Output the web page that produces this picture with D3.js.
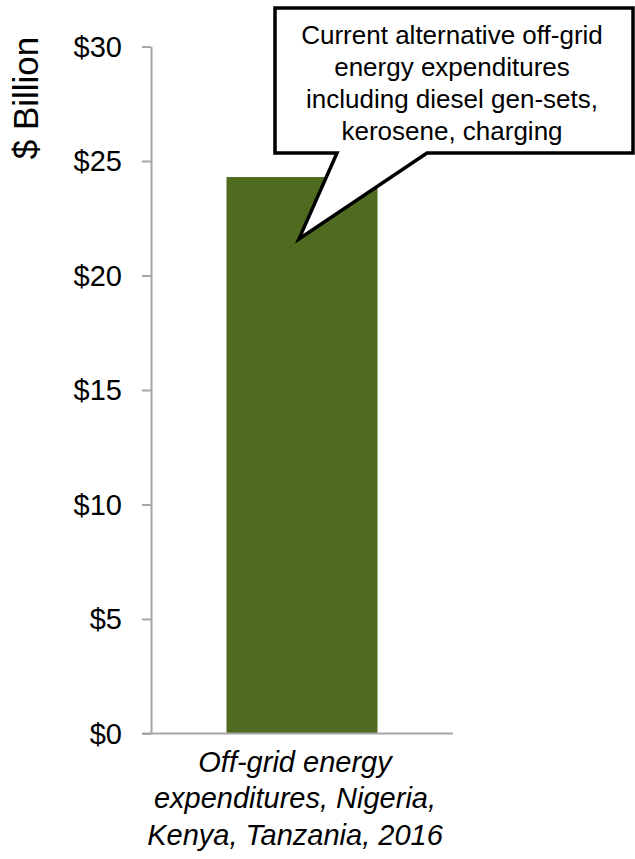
<!DOCTYPE html>
<html>
<head>
<meta charset="utf-8">
<script src="https://cdn.jsdelivr.net/npm/d3@7"></script>
<style>
  body { margin: 0; background: #fff; }
  svg { display: block; font-family: "Liberation Sans", Arial, sans-serif; }
</style>
</head>
<body>
<div id="chart-container"></div>
<script>
(function () {
  // Chart data
  var categories = ["Off-grid energy expenditures, Nigeria, Kenya, Tanzania, 2016"];
  var categoryLines = [["Off-grid energy", "expenditures, Nigeria,", "Kenya, Tanzania, 2016"]];
  var values = [24.3];
  var yTicks = [0, 5, 10, 15, 20, 25, 30];
  var calloutLines = [
    "Current alternative off-grid",
    "energy expenditures",
    "including diesel gen-sets,",
    "kerosene, charging"
  ];

  // Size of the whole picture
  var width = 635;
  var height = 859;
  var margin = { top: 46.5, right: 182, bottom: 125.5, left: 151 };
  var innerWidth = width - margin.left - margin.right;
  var innerHeight = height - margin.top - margin.bottom;

  var axisColor = "#a6a6a6";
  var barColor = "#4e6b1f";

  var svg = d3.select("#chart-container")
    .append("svg")
    .attr("width", width)
    .attr("height", height);

  var g = svg.append("g")
    .attr("transform", `translate(${margin.left}, ${margin.top})`);

  // Scales
  var x = d3.scaleBand()
    .domain(categories)
    .range([0, innerWidth])
    .paddingInner(0.5)
    .paddingOuter(0.25);

  var y = d3.scaleLinear()
    .domain([0, 30])
    .range([innerHeight, 0]);

  // Y axis with dollar labels
  var yAxis = g.append("g")
    .call(d3.axisLeft(y)
      .tickValues(yTicks)
      .tickSize(9)
      .tickPadding(20)
      .tickSizeOuter(0)
      .tickFormat(d => "$" + d));

  yAxis.select(".domain").attr("stroke", axisColor).attr("stroke-width", 2);
  yAxis.selectAll("line").attr("stroke", axisColor).attr("stroke-width", 2);
  yAxis.selectAll("text")
    .attr("fill", "#000")
    .style("font-size", "29px")
    .attr("dy", "0.34em");

  // Bars
  g.selectAll(".bar")
    .data(values)
    .enter()
    .append("rect")
    .attr("class", "bar")
    .attr("x", (d, i) => x(categories[i]))
    .attr("y", d => y(d))
    .attr("width", x.bandwidth())
    .attr("height", d => innerHeight - y(d))
    .attr("fill", barColor);

  // Baseline, running a bit past the y axis like the ticks
  g.append("line")
    .attr("x1", -9)
    .attr("x2", innerWidth)
    .attr("y1", y(0))
    .attr("y2", y(0))
    .attr("stroke", axisColor)
    .attr("stroke-width", 2);

  // Category label in italics, split over three lines
  categories.forEach(function (c, i) {
    var label = g.append("text")
      .attr("x", x(c) + x.bandwidth() / 2 - 7)
      .attr("y", innerHeight + 38)
      .attr("text-anchor", "middle")
      .style("font-size", "29px")
      .style("font-style", "italic")
      .attr("fill", "#000");
    label.selectAll("tspan")
      .data(categoryLines[i])
      .enter()
      .append("tspan")
      .attr("x", x(c) + x.bandwidth() / 2 - 7)
      .attr("dy", (d, j) => j == 0 ? 0 : 36.5)
      .text(d => d);
  });

  // Y axis title
  svg.append("text")
    .attr("transform", "rotate(-90)")
    .attr("x", -98)
    .attr("y", 38)
    .attr("text-anchor", "middle")
    .style("font-size", "35px")
    .attr("fill", "#000")
    .text("$ Billion");

  // Speech-bubble callout pointing into the bar
  var tipX = x(categories[0]) + x.bandwidth() / 2 - 3 + margin.left;
  var tipY = y(21.6) + margin.top;
  var box = { left: 275, right: 633, top: 8, bottom: 153 };
  var calloutPath = d3.path();
  calloutPath.moveTo(box.left, box.top);
  calloutPath.lineTo(box.right, box.top);
  calloutPath.lineTo(box.right, box.bottom);
  calloutPath.lineTo(427, box.bottom);
  calloutPath.lineTo(tipX, tipY);
  calloutPath.lineTo(337, box.bottom);
  calloutPath.lineTo(box.left, box.bottom);
  calloutPath.closePath();

  svg.append("path")
    .attr("d", calloutPath.toString())
    .attr("fill", "#fff")
    .attr("stroke", "#000")
    .attr("stroke-width", 3.5)
    .attr("stroke-linejoin", "miter");

  svg.append("text")
    .attr("text-anchor", "middle")
    .style("font-size", "26px")
    .attr("fill", "#000")
    .selectAll("tspan")
    .data(calloutLines)
    .enter()
    .append("tspan")
    .attr("x", 452)
    .attr("y", (d, i) => 44 + i * 32)
    .text(d => d);
})();
</script>
</body>
</html>
